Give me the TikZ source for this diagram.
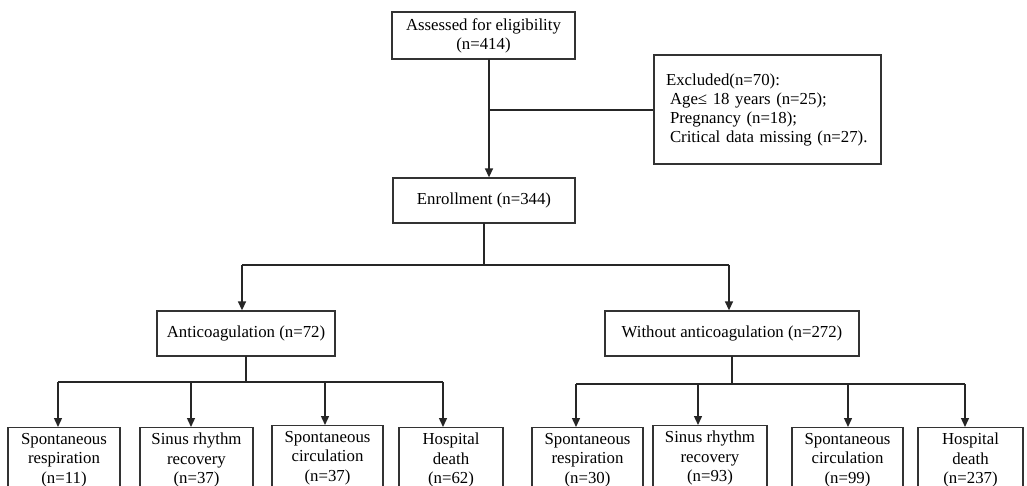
\documentclass[tikz,border=0pt]{standalone}
\usepackage{fontspec}
\setmainfont{Liberation Serif}
\usetikzlibrary{arrows.meta,calc}
\begin{document}
\begin{tikzpicture}[x=1pt,y=-1pt,
  box/.style={draw=black!80,line width=1.3pt,inner sep=0pt,align=center,
    font=\fontsize{16.8}{19}\selectfont},
  conn/.style={draw=black!85,line width=1.4pt},
  arr/.style={conn,-{Triangle[length=9pt,width=8pt]}}]
\useasboundingbox[fill=white] (0,0) rectangle (1027,486);
% main column
\node[box,minimum width=183,minimum height=47] (assess) at (483.5,35.5) {Assessed for eligibility\\(n=414)};
\node[box,minimum width=227,minimum height=109,text width=203,align=left,inner xsep=12pt] (excl) at (767.5,109.5)
  {Excluded(n=70):\\\hspace*{4pt}Age≤ 18 years (n=25);\\\hspace*{4pt}Pregnancy (n=18);\\\hspace*{4pt}Critical data missing (n=27).};
\node[box,minimum width=182,minimum height=45] (enrol) at (484,200.5) {Enrollment (n=344)};
\node[box,minimum width=178,minimum height=45] (anti) at (246,333.5) {Anticoagulation (n=72)};
\node[box,minimum width=254,minimum height=45] (without) at (732,333.5) {Without anticoagulation (n=272)};
% bottom boxes
\tikzset{bbox/.style={box,anchor=north,minimum height=65,font=\fontsize{16.8}{19.5}\selectfont}}
\node[bbox,minimum width=112] (b1) at (64,427) {Spontaneous\\respiration\\(n=11)};
\node[bbox,minimum width=113] (b2) at (196.5,427) {Sinus rhythm\\recovery\\(n=37)};
\node[bbox,minimum width=111] (b3) at (327.5,425) {Spontaneous\\circulation\\(n=37)};
\node[bbox,minimum width=104] (b4) at (451,427) {Hospital\\death\\(n=62)};
\node[bbox,minimum width=111] (b5) at (587.5,427) {Spontaneous\\respiration\\(n=30)};
\node[bbox,minimum width=114] (b6) at (710,425) {Sinus rhythm\\recovery\\(n=93)};
\node[bbox,minimum width=111] (b7) at (847.5,427) {Spontaneous\\circulation\\(n=99)};
\node[bbox,minimum width=105] (b8) at (970.5,427) {Hospital\\death\\(n=237)};
% coordinates for connector routing
\coordinate (m1) at (489,59);
\coordinate (mj) at (489,110);
\coordinate (e1) at (484,223);
\coordinate (ej) at (484,265);
\coordinate (eL) at (242,265);
\coordinate (eR) at (729,265);
\coordinate (a1) at (246,356);
\coordinate (aj) at (246,382);
\coordinate (w1) at (732,356);
\coordinate (wj) at (732,384);
\coordinate (l1) at (58,382);
\coordinate (l2) at (191,382);
\coordinate (l3) at (325,382);
\coordinate (l4) at (443,382);
\coordinate (r1) at (576,384);
\coordinate (r2) at (698,384);
\coordinate (r3) at (848,384);
\coordinate (r4) at (965,384);
% connectors
\draw[arr] (m1) -- (m1 |- enrol.north);
\draw[conn] (mj) -- (mj -| excl.west);
\draw[conn] (e1) -- (ej);
\draw[conn] (eL) -- (eR);
\draw[arr] (eL) -- (eL |- anti.north);
\draw[arr] (eR) -- (eR |- without.north);
\draw[conn] (a1) -- (aj);
\draw[conn] (l1) -- (l4);
\draw[arr] (l1) -- (l1 |- b1.north);
\draw[arr] (l2) -- (l2 |- b2.north);
\draw[arr] (l3) -- (l3 |- b3.north);
\draw[arr] (l4) -- (l4 |- b4.north);
\draw[conn] (w1) -- (wj);
\draw[conn] (r1) -- (r4);
\draw[arr] (r1) -- (r1 |- b5.north);
\draw[arr] (r2) -- (r2 |- b6.north);
\draw[arr] (r3) -- (r3 |- b7.north);
\draw[arr] (r4) -- (r4 |- b8.north);
\end{tikzpicture}
\end{document}
